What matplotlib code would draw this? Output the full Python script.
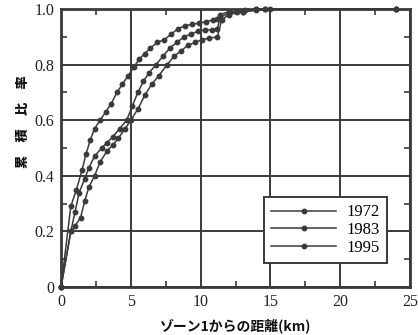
import matplotlib
matplotlib.use('Agg')
import matplotlib.pyplot as plt
from matplotlib.ticker import FixedLocator

plt.rcParams['font.family'] = ['Liberation Serif', 'Noto Sans CJK JP']

# distance from zone 1 (km) and cumulative ratio
x_1972 = [0, 0.7, 1.1, 1.5, 1.8, 2.1, 2.4, 2.8, 3.2, 3.6, 4.0, 4.4, 4.8, 5.2, 5.6, 6.0,
          6.4, 6.9, 7.4, 7.9, 8.4, 8.9, 9.4, 9.9, 10.4, 10.9, 11.2, 11.4, 12.0, 12.6,
          13.2, 14.0, 14.6, 24.0]
y_1972 = [0, 0.29, 0.35, 0.42, 0.48, 0.53, 0.57, 0.60, 0.63, 0.66, 0.70, 0.73, 0.76,
          0.79, 0.82, 0.84, 0.86, 0.88, 0.89, 0.91, 0.93, 0.94, 0.945, 0.95, 0.955,
          0.96, 0.965, 0.98, 0.99, 0.99, 0.995, 1.0, 1.0, 1.0]

x_1983 = [0, 0.7, 1.0, 1.3, 1.7, 2.0, 2.4, 2.9, 3.3, 3.7, 4.2, 4.7, 5.1, 5.5, 5.9, 6.3,
          6.8, 7.3, 7.8, 8.3, 8.8, 9.3, 9.8, 10.3, 10.8, 11.2, 11.4, 12.0, 13.0, 14.0,
          14.6, 24.0]
y_1983 = [0, 0.20, 0.27, 0.34, 0.39, 0.43, 0.47, 0.50, 0.52, 0.54, 0.57, 0.60, 0.65,
          0.70, 0.74, 0.77, 0.80, 0.83, 0.86, 0.88, 0.90, 0.91, 0.92, 0.925, 0.925,
          0.93, 0.97, 0.985, 0.99, 1.0, 1.0, 1.0]

x_1995 = [0, 0.7, 1.0, 1.4, 1.7, 2.0, 2.4, 2.8, 3.3, 3.7, 4.1, 4.6, 5.0, 5.5, 6.0, 6.5,
          7.0, 7.6, 8.1, 8.6, 9.1, 9.6, 10.1, 10.6, 11.2, 11.5, 12.0, 13.0, 14.0, 15.0,
          24.0]
y_1995 = [0, 0.20, 0.22, 0.25, 0.31, 0.36, 0.40, 0.45, 0.49, 0.51, 0.535, 0.57, 0.60,
          0.64, 0.69, 0.73, 0.76, 0.80, 0.83, 0.85, 0.87, 0.88, 0.89, 0.895, 0.90,
          0.96, 0.98, 0.99, 0.995, 1.0, 1.0]

years = ['1972', '1983', '1995']
xticks = [0, 5, 10, 15, 20, 25]
xtick_labels = ['0', '5', '10', '15', '20', '25']
yticks = [0, 0.2, 0.4, 0.6, 0.8, 1.0]
ytick_labels = ['0', '0.2', '0.4', '0.6', '0.8', '1.0']

col = '#3a3a3a'

fig = plt.figure(figsize=(4.18, 3.35), dpi=100)
ax = fig.add_axes([0.146, 0.143, 0.835, 0.830])

for xs, ys, lab in zip([x_1972, x_1983, x_1995], [y_1972, y_1983, y_1995], years):
    ax.plot(xs, ys, color=col, lw=1.1, marker='o', ms=3.2, mfc=col, mec=col,
            label=lab, clip_on=False, zorder=3)

ax.set_xlim(0, 25)
ax.set_ylim(0, 1.0)
ax.set_xticks(xticks, xtick_labels)
ax.set_yticks(yticks, ytick_labels)
ax.xaxis.set_minor_locator(FixedLocator([2.5, 7.5, 12.5, 17.5, 22.5]))
ax.yaxis.set_minor_locator(FixedLocator([0.1, 0.3, 0.5, 0.7, 0.9]))

ax.grid(True, which='major', color=col, lw=1.4)
ax.tick_params(which='both', direction='in', top=True, right=True, color=col,
               labelcolor='#222222', labelsize=11.5)
ax.tick_params(which='major', length=0, pad=5)
ax.tick_params(which='minor', length=4, width=1.2)
for s in ax.spines.values():
    s.set_color(col)
    s.set_linewidth(2)

ax.set_xlabel('ゾーン1からの距離(km)', family=['Noto Sans CJK JP'], fontweight='bold',
              fontsize=10, color='#111111', labelpad=6)
fig.text(0.055, 0.637, '累\u3000積\u3000比\u3000率', rotation=90,
         ha='center', va='center', family=['Noto Sans CJK JP'], fontweight='heavy',
         fontsize=9.5, color='#111111')

leg = ax.legend(loc='lower right', bbox_to_anchor=(0.934, 0.086), borderaxespad=0,
                numpoints=1, handlelength=3.9, handletextpad=0.6, fontsize=12,
                frameon=True, fancybox=False, labelspacing=0.1, borderpad=0.45)
leg.get_frame().set_edgecolor(col)
leg.get_frame().set_linewidth(1.4)
leg.get_frame().set_alpha(1)

fig.savefig('out.png', dpi=100)
